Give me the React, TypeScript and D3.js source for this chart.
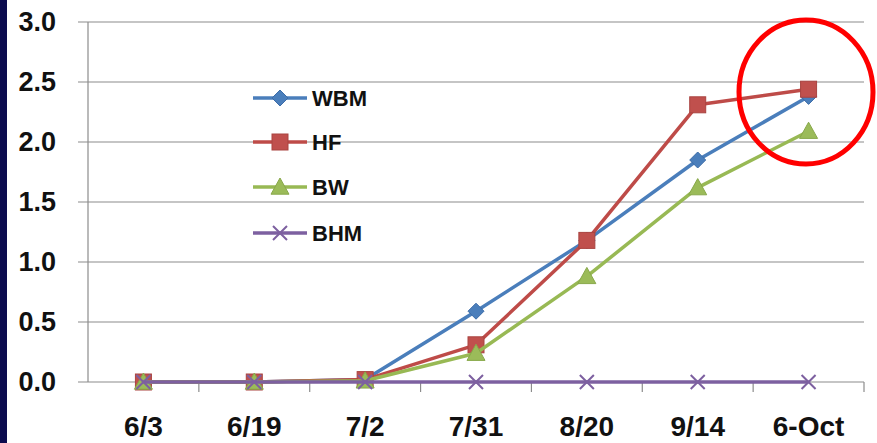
import React from "react";
import * as d3 from "d3";

const categories = ["6/3", "6/19", "7/2", "7/31", "8/20", "9/14", "6-Oct"];
const seriesNames = ["WBM", "HF", "BW", "BHM"];
const wbm = [0, 0, 0.02, 0.59, 1.18, 1.85, 2.38];
const hf = [0, 0, 0.02, 0.31, 1.18, 2.31, 2.44];
const bw = [0, 0, 0.01, 0.24, 0.88, 1.62, 2.09];
const bhm = [0, 0, 0, 0, 0, 0, 0];
const yTicks = [0, 0.5, 1.0, 1.5, 2.0, 2.5, 3.0];

const W = 877;
const H = 443;
const left = 88;
const right = 864;
const top = 22;
const bottom = 382;
const FONT = "'Liberation Sans', Arial, sans-serif";

const colors: Record<string, string> = {
  WBM: "#4A7EBB",
  HF: "#BE4B48",
  BW: "#98B954",
  BHM: "#7D60A0",
};
const markerFill: Record<string, string> = {
  WBM: "#4A7EBB",
  HF: "#C0504D",
  BW: "#9BBB59",
  BHM: "#7D60A0",
};

const data: Record<string, number[]> = { WBM: wbm, HF: hf, BW: bw, BHM: bhm };

function Marker({ name, x, y }: { name: string; x: number; y: number }) {
  const c = markerFill[name];
  if (name === "WBM") {
    const s = 8;
    return <path d={`M${x},${y - s}L${x + s},${y}L${x},${y + s}L${x - s},${y}Z`} fill={c} stroke="#3C6CA8" strokeWidth={1} />;
  }
  if (name === "HF") {
    const s = 8;
    return <rect x={x - s} y={y - s} width={2 * s} height={2 * s} fill={c} stroke="#A94441" strokeWidth={1} />;
  }
  if (name === "BW") {
    const s = 9;
    return <path d={`M${x},${y - s}L${x + s},${y + s * 0.8}L${x - s},${y + s * 0.8}Z`} fill={c} stroke="#88A84A" strokeWidth={1} />;
  }
  const s = 7;
  return (
    <path d={`M${x - s},${y - s}L${x + s},${y + s}M${x + s},${y - s}L${x - s},${y + s}`} stroke={c} strokeWidth={2} fill="none" />
  );
}

export default function App() {
  const x = d3.scaleBand<string>().domain(categories).range([left, right]);
  const y = d3.scaleLinear().domain([0, 3]).range([bottom, top]);
  const cx = (c: string) => (x(c) ?? 0) + x.bandwidth() / 2;
  const line = d3
    .line<number>()
    .x((_, i) => cx(categories[i]))
    .y((v) => y(v));

  const legendX = 253;
  const legendY = [98, 142, 187, 233];

  return (
    <svg
      width={W}
      height={H}
      style={{ position: "absolute", left: 0, top: 0, background: "#ffffff" }}
    >
      <rect x={0} y={0} width={7} height={H} fill="#0B0B4E" />

      {yTicks.map((t) => (
        <g key={t}>
          <line x1={78} x2={right} y1={y(t)} y2={y(t)} stroke="#8C8C8C" strokeWidth={1.2} />
          <text
            x={56}
            y={y(t)}
            textAnchor="end"
            dominantBaseline="central"
            fontFamily={FONT}
            fontWeight="bold"
            fontSize={27}
            fill="#111"
          >
            {t.toFixed(1)}
          </text>
        </g>
      ))}
      <line x1={left} x2={left} y1={top} y2={bottom} stroke="#8C8C8C" strokeWidth={1.2} />

      {categories.map((c) => (
        <line
          key={"t" + c}
          x1={(x(c) ?? 0) + x.bandwidth()}
          x2={(x(c) ?? 0) + x.bandwidth()}
          y1={bottom}
          y2={bottom + 10}
          stroke="#8C8C8C"
          strokeWidth={1.2}
        />
      ))}
      {categories.map((c) => (
        <text
          key={"l" + c}
          x={cx(c)}
          y={426}
          textAnchor="middle"
          dominantBaseline="central"
          fontFamily={FONT}
          fontWeight="bold"
          fontSize={28}
          fill="#111"
        >
          {c}
        </text>
      ))}

      {seriesNames.map((n) => (
        <g key={n}>
          <path d={line(data[n]) ?? ""} fill="none" stroke={colors[n]} strokeWidth={3.5} strokeLinejoin="round" />
          {data[n].map((v, i) => (
            <Marker key={i} name={n} x={cx(categories[i])} y={y(v)} />
          ))}
        </g>
      ))}

      {seriesNames.map((n, i) => (
        <g key={"leg" + n}>
          <line x1={legendX} x2={legendX + 54} y1={legendY[i]} y2={legendY[i]} stroke={colors[n]} strokeWidth={3.5} />
          <Marker name={n} x={legendX + 27} y={legendY[i]} />
          <text
            x={legendX + 59}
            y={legendY[i]}
            dominantBaseline="central"
            fontFamily={FONT}
            fontWeight="bold"
            fontSize={22}
            fill="#111"
          >
            {n}
          </text>
        </g>
      ))}

      <ellipse cx={806} cy={92} rx={67} ry={72} fill="none" stroke="#FF0000" strokeWidth={5} />
    </svg>
  );
}
